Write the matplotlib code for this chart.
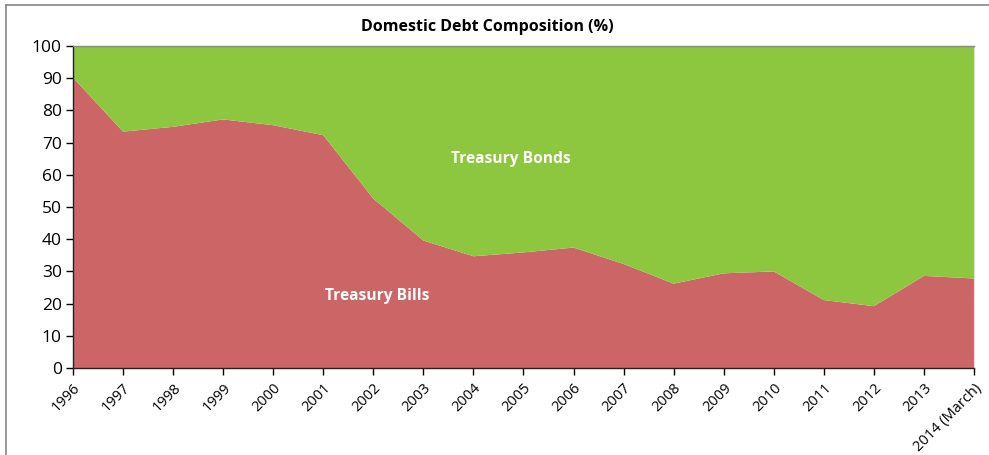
import matplotlib
matplotlib.use("Agg")
import matplotlib.pyplot as plt
from matplotlib.lines import Line2D
import numpy as np

years = ["1996", "1997", "1998", "1999", "2000", "2001", "2002", "2003", "2004", "2005",
         "2006", "2007", "2008", "2009", "2010", "2011", "2012", "2013", "2014 (March)"]
treasury_bills = [90.2, 73.4, 74.9, 77.2, 75.4, 72.3, 52.6, 39.6, 34.7, 35.9,
                  37.4, 32.3, 26.2, 29.4, 30.0, 21.1, 19.2, 28.6, 27.8]
treasury_bonds = [100 - v for v in treasury_bills]

red = "#CC6666"
green = "#8DC63F"

plt.rcParams['font.family'] = ['Open Sans', 'DejaVu Sans']

fig = plt.figure(figsize=(9.89, 4.55), dpi=100)
ax = fig.add_axes([0.0738, 0.1912, 0.9110, 0.7077])

x = np.arange(len(years))
ax.stackplot(x, treasury_bills, treasury_bonds, colors=[red, green], linewidth=0)

ax.set_xlim(0, len(years) - 1)
ax.set_ylim(0, 100)
ax.set_yticks(range(0, 101, 10))
ax.set_xticks(x)
ax.set_xticklabels(years, rotation=45, ha="right", rotation_mode="anchor", fontsize=10.5)
ax.tick_params(axis="y", labelsize=12.5, length=5, direction="out", width=1, pad=3)
ax.tick_params(axis="x", length=5, direction="out", width=1, pad=4)

for s in ["left", "bottom"]:
    ax.spines[s].set_color("#222222")
    ax.spines[s].set_linewidth(1)
ax.spines["top"].set_color("#888888")
ax.spines["top"].set_linewidth(1)
ax.spines["right"].set_color("#dddddd")
ax.spines["right"].set_linewidth(0.8)

ax.text(8.75, 65, "Treasury Bonds", color="white", fontsize=11.2, fontweight="bold",
        ha="center", va="center")
ax.text(6.07, 22.5, "Treasury Bills", color="white", fontsize=11.2, fontweight="bold",
        ha="center", va="center")

fig.text(0.493, 0.94, "Domestic Debt Composition (%)", ha="center", va="center",
         fontsize=11.5, fontweight="bold")

# outer frame (top and left edges)
fig.add_artist(Line2D([0.0065, 1.0], [0.989, 0.989], color="#888888", linewidth=1.2,
                      transform=fig.transFigure))
fig.add_artist(Line2D([0.0065, 0.0065], [0.0, 0.989], color="#888888", linewidth=1.2,
                      transform=fig.transFigure))

fig.savefig("out.png", dpi=100)
